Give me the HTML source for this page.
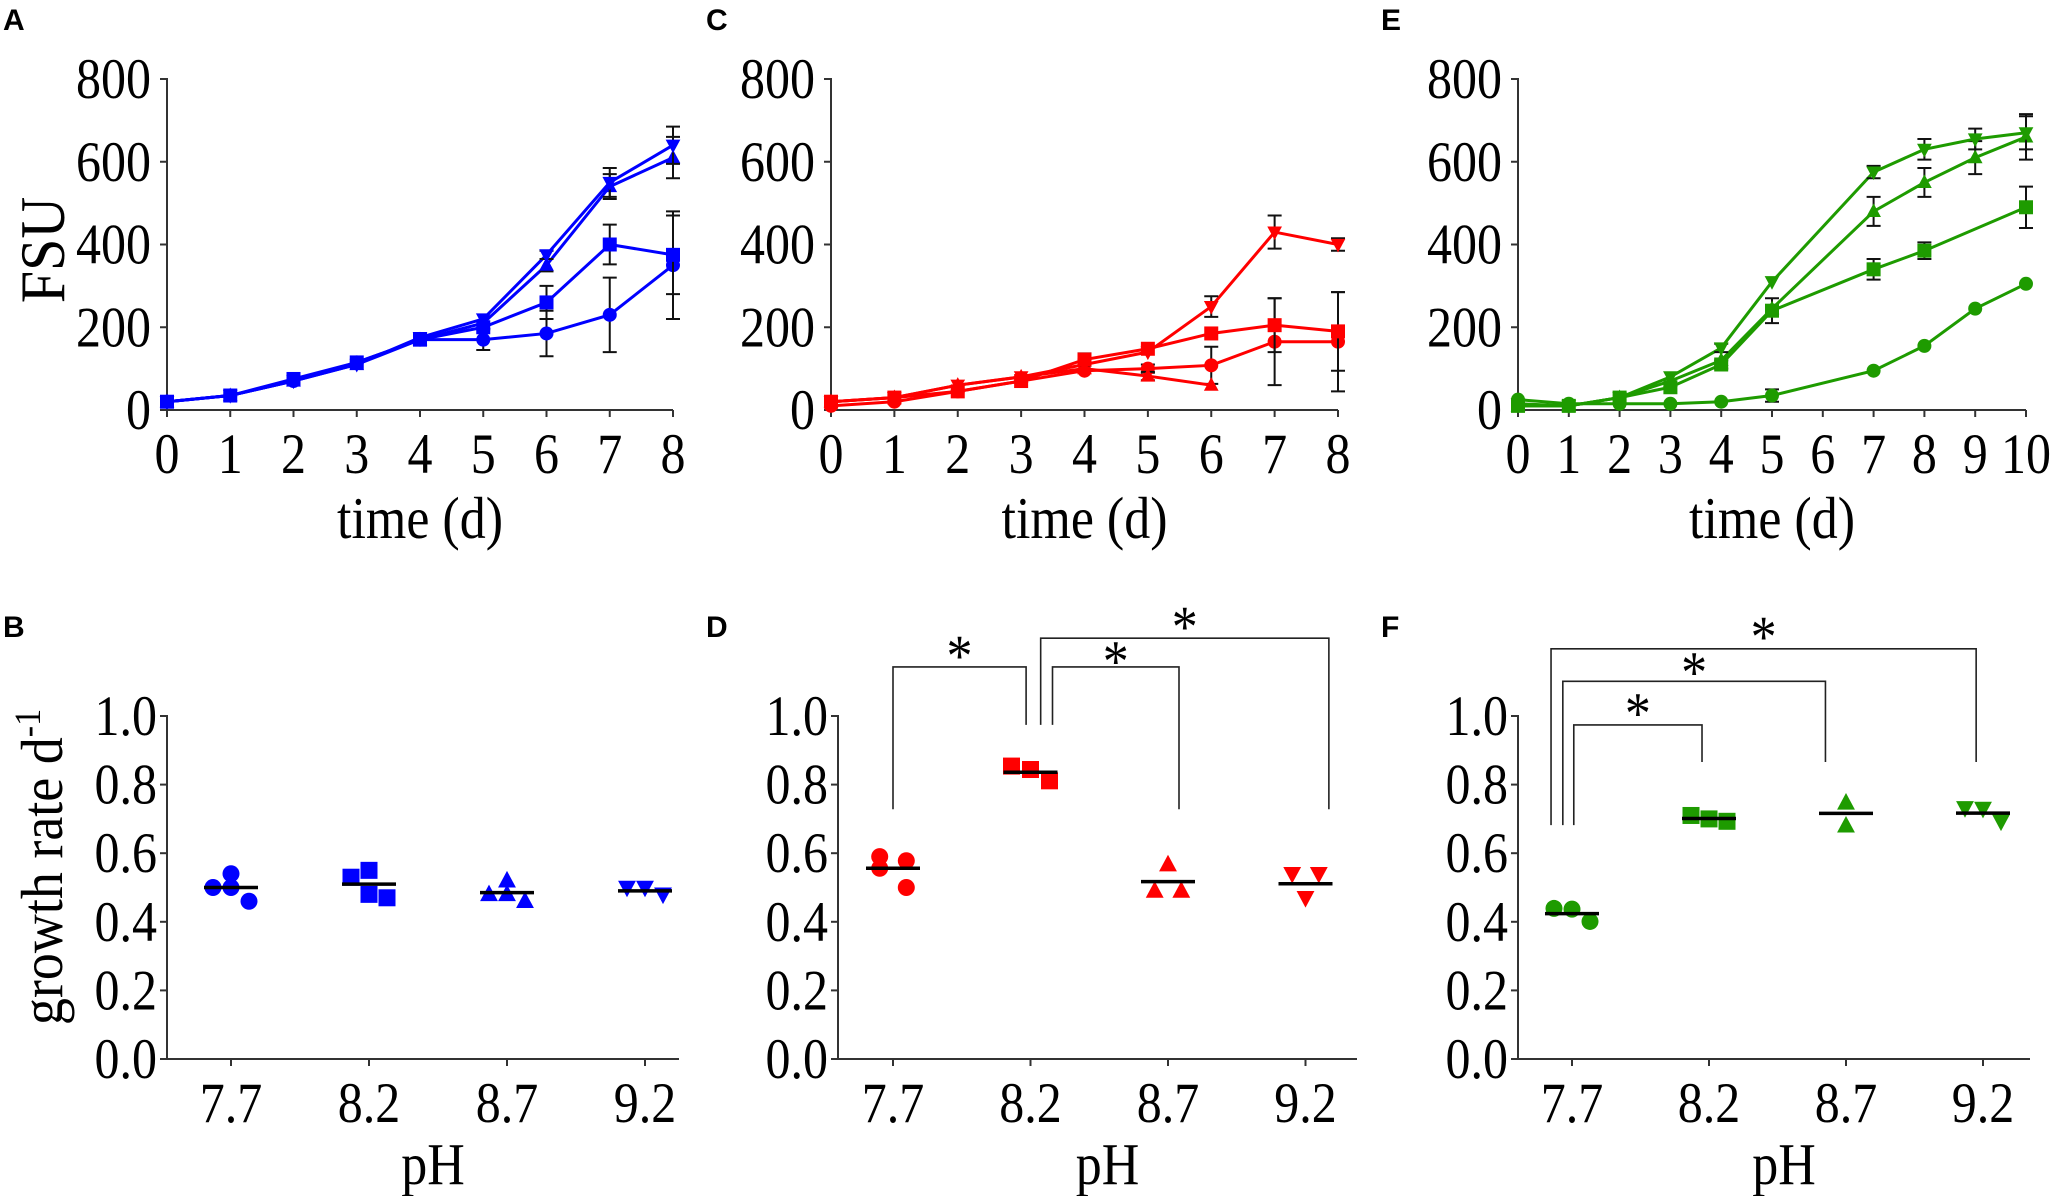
<!DOCTYPE html>
<html><head><meta charset="utf-8">
<style>
html,body{margin:0;padding:0;background:#fff;}
svg{display:block;font-family:"Liberation Serif",serif;}
.lbl{font-family:"Liberation Sans",sans-serif;font-weight:bold;font-size:30px;}
</style></head>
<body>
<svg id="fig" width="2060" height="1196" viewBox="0 0 2060 1196" xmlns="http://www.w3.org/2000/svg">
<rect width="2060" height="1196" fill="#fff"/>
<text class="lbl" x="3" y="30">A</text>
<text class="lbl" x="706" y="30">C</text>
<text class="lbl" x="1381" y="30">E</text>
<text class="lbl" x="3" y="637">B</text>
<text class="lbl" x="706" y="637">D</text>
<text class="lbl" x="1381" y="637">F</text>
</svg>
<script>
// ---------- data: time-course panels ----------
const daysA = [0,1,2,3,4,5,6,7,8];
const A_circle = [20,35,70,115,170,170,185,230,350];
const A_circleErr = [0,0,0,0,0,25,55,90,130];
const A_square = [20,35,75,115,170,200,260,400,375];
const A_squareErr = [0,0,0,0,0,0,40,48,95];
const A_up = [20,35,70,110,170,210,350,540,610];
const A_upErr = [0,0,0,0,0,0,15,30,50];
const A_down = [20,35,70,110,175,220,375,550,640];
const A_downErr = [0,0,0,0,0,0,10,35,45];

const daysC = [0,1,2,3,4,5,6,7,8];
const C_circle = [10,20,45,70,95,100,108,165,165];
const C_circleErr = [0,0,0,0,0,10,45,105,120];
const C_square = [20,30,45,70,122,148,185,205,190];
const C_squareErr = [0,0,0,0,15,0,0,65,95];
const C_up = [20,30,60,80,100,82,60,null,null];
const C_upErr = [0,0,0,0,0,10,0,0,0];
const C_down = [20,30,60,80,110,140,250,430,400];
const C_downErr = [0,0,0,0,0,0,25,40,15];

const daysE = [0,1,2,3,4,5,6,7,8,9,10];
const E_circle = [25,15,15,15,20,35,null,95,155,245,305];
const E_circleErr = [0,0,0,0,0,15,0,0,0,0,0];
const E_square = [10,10,30,55,110,240,null,340,385,null,490];
const E_squareErr = [0,0,0,0,10,30,0,25,20,0,50];
const E_up = [10,10,30,70,120,245,null,480,550,610,660];
const E_upErr = [0,0,0,0,0,0,0,35,35,40,55];
const E_down = [15,10,30,80,150,310,null,575,630,655,670];
const E_downErr = [0,0,0,0,10,0,0,15,25,25,40];

const fsuTicks = [0,200,400,600,800];

// ---------- data: growth-rate panels ----------
const phLabels = ["7.7","8.2","8.7","9.2"];
const rateTicks = ["0.0","0.2","0.4","0.6","0.8","1.0"];
const B_c77 = [0.50,0.54,0.50,0.46]; const B_s77 = [-1,0,0,1];
const B_c82 = [0.53,0.55,0.48,0.47]; const B_s82 = [-1,0,0,1];
const B_c87 = [0.48,0.52,0.48,0.46]; const B_s87 = [-1,0,0,1];
const B_c92 = [0.50,0.50,0.48];      const B_s92 = [-1,0,1];
const B_means = [0.50,0.51,0.485,0.49];

const D_c77 = [0.59,0.556,0.578,0.50]; const D_s77 = [-0.7,-0.7,0.7,0.7];
const D_c82 = [0.854,0.844,0.811];     const D_s82 = [-1,0,1];
const D_c87 = [0.49,0.567,0.49];       const D_s87 = [-0.7,0,0.7];
const D_c92 = [0.54,0.47,0.54];        const D_s92 = [-0.7,0,0.7];
const D_means = [0.556,0.836,0.517,0.511];

const F_c77 = [0.439,0.437,0.401];     const F_s77 = [-1,0,1];
const F_c82 = [0.71,0.70,0.693];       const F_s82 = [-1,0,1];
const F_c87 = [0.747,0.68];            const F_s87 = [0,0];
const F_c92 = [0.732,0.73,0.693];      const F_s92 = [-1,0,1];
const F_means = [0.424,0.701,0.716,0.717];

// brackets: [x1(cat), x2(cat), top, leftBottom, rightBottom, starY]
const D_br1 = [0,0.968,1.143,0.728,0.974,1.194];
const D_br2 = [1.16,2.08,1.143,0.974,0.728,1.178];
const D_br3 = [1.074,3.17,1.227,0.974,0.728,1.278];
const F_br1 = [0.013,0.949,0.974,0.682,0.866,1.026];
const F_br2 = [-0.067,1.85,1.101,0.682,0.866,1.146];
const F_br3 = [-0.153,2.95,1.196,0.682,0.866,1.249];

const NS = "http://www.w3.org/2000/svg";
const svg = document.getElementById('fig');
const SY = 1.15;
function mk(tag, attrs, parent){
  const e = document.createElementNS(NS, tag);
  for (const k in attrs) e.setAttribute(k, attrs[k]);
  (parent||svg).appendChild(e);
  return e;
}
function txt(parent, x, y, size, anchor, str){
  const e = mk('text',{transform:`translate(${x},${y}) scale(1,${SY})`,'font-size':size,'text-anchor':anchor},parent);
  e.textContent = str;
  return e;
}
function marker(g, shape, x, y, r, color){
  let e;
  if (shape==='circle') e = mk('circle',{cx:x,cy:y,r:r,fill:color},g);
  else if (shape==='square') e = mk('rect',{x:x-r,y:y-r,width:2*r,height:2*r,fill:color},g);
  else if (shape==='up') e = mk('polygon',{points:`${x},${y-r*1.15} ${x-r*1.05},${y+r*0.8} ${x+r*1.05},${y+r*0.8}`,fill:color},g);
  else e = mk('polygon',{points:`${x},${y+r*1.15} ${x-r*1.05},${y-r*0.8} ${x+r*1.05},${y-r*0.8}`,fill:color},g);
  
  
  return e;
}

function linePanel(name, x0, x1, days, xmax, series, color){
  const y0 = 410, y1 = 79;
  const sx = d => x0 + (x1-x0)*d/xmax;
  const sy = v => y0 - (y0-y1)*v/800;
  const g = mk('g',{});
  
  
  const ax = mk('path',{d:`M${x0-7},${y1}H${x0}V${y0}H${x1}`,stroke:'#333',fill:'none','stroke-width':2},g);
  
  
  fsuTicks.forEach(t=>{
    mk('line',{x1:x0-7,x2:x0,y1:sy(t),y2:sy(t),stroke:'#333','stroke-width':2},g);
    const tx = txt(g, x0-16, sy(t)+19, 50, 'end', t);
    
    
  });
  days.forEach(d=>{
    mk('line',{x1:sx(d),x2:sx(d),y1:y0,y2:y0+7,stroke:'#333','stroke-width':2},g);
    const tx = txt(g, sx(d), 473, 50, 'middle', d);
    
    
  });
  const xt = txt(g, (x0+x1)/2, 538, 52, 'middle', 'time (d)');
  
  
  series.forEach(s=>{
    const pts = days.map((d,i)=>[d,s.v[i]]).filter(p=>p[1]!=null);
    const ln = mk('polyline',{points:pts.map(p=>sx(p[0])+','+sy(p[1])).join(' '),stroke:color,'stroke-width':3,fill:'none'},g);
    
    
    days.forEach((d,i)=>{
      if (s.v[i]==null || !s.e[i]) return;
      const x = sx(d), ya = sy(s.v[i]-s.e[i]), yb = sy(s.v[i]+s.e[i]);
      const eb = mk('path',{d:`M${x},${ya}V${yb}M${x-7},${ya}H${x+7}M${x-7},${yb}H${x+7}`,stroke:'#111','stroke-width':2,fill:'none'},g);
      
      
    });
    pts.forEach(p=>marker(g, s.shape, sx(p[0]), sy(p[1]), 7, color));
  });
}

linePanel('panel-a-chart',167,673,daysA,8,[
  {shape:'circle',v:A_circle,e:A_circleErr},{shape:'square',v:A_square,e:A_squareErr},
  {shape:'up',v:A_up,e:A_upErr},{shape:'down',v:A_down,e:A_downErr}],'#0000ff');
linePanel('panel-c-chart',831,1338,daysC,8,[
  {shape:'circle',v:C_circle,e:C_circleErr},{shape:'square',v:C_square,e:C_squareErr},
  {shape:'up',v:C_up,e:C_upErr},{shape:'down',v:C_down,e:C_downErr}],'#ff0000');
linePanel('panel-e-chart',1518,2026,daysE,10,[
  {shape:'circle',v:E_circle,e:E_circleErr},{shape:'square',v:E_square,e:E_squareErr},
  {shape:'up',v:E_up,e:E_upErr},{shape:'down',v:E_down,e:E_downErr}],'#1e9b00');

const fsu = mk('text',{transform:'translate(64,250) rotate(-90) scale(1,1.1)','font-size':58,'text-anchor':'middle'});
fsu.textContent = 'FSU';



function dotPanel(name, ax0, axEnd, cat0, catStep, groups, means, brackets, color, jit){
  const y0 = 1059, y1 = 716;
  const sx = c => cat0 + catStep*c;
  const sy = v => y0 - (y0-y1)*v;
  const g = mk('g',{});
  
  
  const ax = mk('path',{d:`M${ax0-7},${y1}H${ax0}V${y0}H${axEnd}`,stroke:'#333',fill:'none','stroke-width':2},g);
  
  
  rateTicks.forEach(t=>{
    const v = parseFloat(t);
    mk('line',{x1:ax0-7,x2:ax0,y1:sy(v),y2:sy(v),stroke:'#333','stroke-width':2},g);
    const tx = txt(g, ax0-10, sy(v)+19, 50, 'end', t);
    
    
  });
  phLabels.forEach((p,i)=>{
    mk('line',{x1:sx(i),x2:sx(i),y1:y0,y2:y0+7,stroke:'#333','stroke-width':2},g);
    const tx = txt(g, sx(i), 1122, 50, 'middle', p);
    
    
  });
  const xt = txt(g, (ax0+axEnd)/2+10, 1184, 52, 'middle', 'pH');
  
  
  const shapes = ['circle','square','up','down'];
  groups.forEach((gr,i)=>{
    gr.v.forEach((v,j)=>marker(g, shapes[i], sx(i)+gr.s[j]*jit, sy(v), 8.5, color));
    const m = mk('line',{x1:sx(i)-27,x2:sx(i)+27,y1:sy(means[i]),y2:sy(means[i]),stroke:'#000','stroke-width':3.5},g);
    
    
  });
  brackets.forEach(b=>{
    const xa = sx(b[0]), xb = sx(b[1]);
    const br = mk('path',{d:`M${xa},${sy(b[3])}V${sy(b[2])}H${xb}V${sy(b[4])}`,stroke:'#222','stroke-width':1.6,fill:'none'},g);
    
    
    const st = txt(g, (xa+xb)/2, sy(b[5])+26, 52, 'middle', '*');
    
    
  });
}

dotPanel('panel-b-chart',167,679,231,138,[
  {v:B_c77,s:B_s77},{v:B_c82,s:B_s82},{v:B_c87,s:B_s87},{v:B_c92,s:B_s92}],B_means,[],'#0000ff',18);
dotPanel('panel-d-chart',838,1357,893,137.5,[
  {v:D_c77,s:D_s77},{v:D_c82,s:D_s82},{v:D_c87,s:D_s87},{v:D_c92,s:D_s92}],D_means,[D_br1,D_br2,D_br3],'#ff0000',19);
dotPanel('panel-f-chart',1518,2030,1572,137,[
  {v:F_c77,s:F_s77},{v:F_c82,s:F_s82},{v:F_c87,s:F_s87},{v:F_c92,s:F_s92}],F_means,[F_br1,F_br2,F_br3],'#1e9b00',18);

const gr = mk('text',{transform:'translate(62,867) rotate(-90) scale(1,1.1)','font-size':54,'text-anchor':'middle'});


gr.innerHTML = 'growth rate d<tspan dy="-20" font-size="34">-1</tspan>';
</script>
</body></html>
